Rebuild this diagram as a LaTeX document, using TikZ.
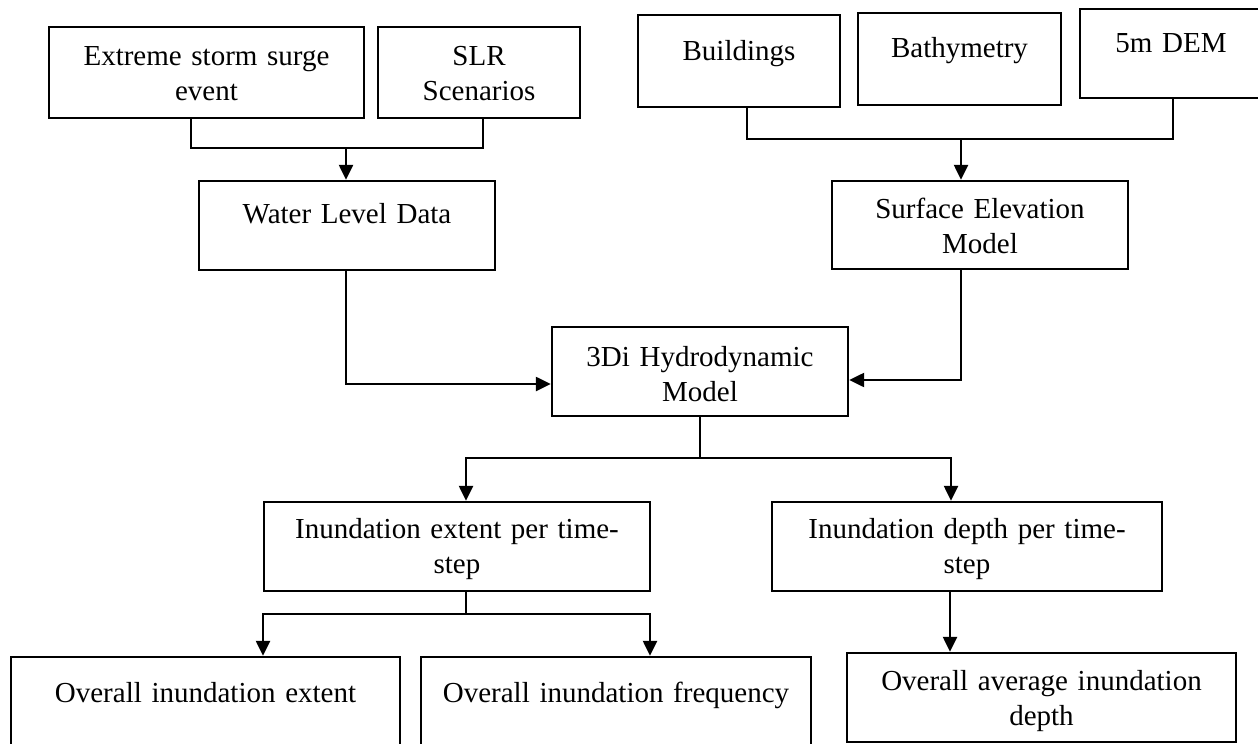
\documentclass[tikz,border=0pt]{standalone}
\usepackage{fontspec}
\setmainfont{Liberation Serif}
\usetikzlibrary{arrows.meta}
\tikzset{
  box/.style={draw, line width=2.4pt, inner sep=0pt, align=center,
    font=\fontsize{29}{35}\selectfont, anchor=base},
  conn/.style={line width=2.4pt},
  arr/.style={line width=2.4pt, -{Triangle[length=15pt,width=14pt]}},
}
\begin{document}
\begin{tikzpicture}[x=1pt,y=-1pt]
\useasboundingbox (0,0) rectangle (1258,744);
% top row
\node[box, text width=315pt, text height=38pt, text depth=53pt] (b1) at (206.5,65) {Extreme storm surge\\event};
\node[box, text width=202pt, text height=38pt, text depth=53pt] (b2) at (479,65) {SLR\\Scenarios};
\node[box, text width=202pt, text height=45pt, text depth=47pt] (b3) at (739,60) {Buildings};
\node[box, text width=203pt, text height=44pt, text depth=48pt] (b4) at (959.5,57) {Bathymetry};
\node[box, text width=182pt, text height=43pt, text depth=46pt] (b5) at (1171,52) {5m DEM};
% second row
\node[box, text width=296pt, text height=42pt, text depth=47pt] (wld) at (347,223) {Water Level Data};
\node[box, text width=296pt, text height=37pt, text depth=51pt] (sem) at (980,218) {Surface Elevation\\Model};
% model
\node[box, text width=296pt, text height=39pt, text depth=50pt] (hyd) at (700,366) {3Di Hydrodynamic\\Model};
% per time-step
\node[box, text width=386pt, text height=36pt, text depth=53pt] (ie) at (457,538) {Inundation extent per time-\\step};
\node[box, text width=390pt, text height=36pt, text depth=53pt] (idt) at (967,538) {Inundation depth per time-\\step};
% outputs
\node[box, text width=389pt, text height=45pt, text depth=48pt] (oie) at (205.5,702) {Overall inundation extent};
\node[box, text width=390pt, text height=45pt, text depth=48pt] (oif) at (616,702) {Overall inundation frequency};
\node[box, text width=389pt, text height=37pt, text depth=52pt] (odt) at (1041.5,690) {Overall average inundation\\depth};
% junctions
\coordinate (j1) at (346,148);
\coordinate (j2) at (961,139);
\coordinate (j3) at (700,458);
\coordinate (j4) at (466,614);
\coordinate (k) at ([xshift=-17pt]idt.south);
% connectors
\draw[conn] ([xshift=-15.5pt]b1.south) |- (j1) -| ([xshift=4pt]b2.south);
\draw[arr] (j1) -- (j1 |- wld.north);
\draw[conn] ([xshift=8pt]b3.south) |- (j2) -| ([xshift=2pt]b5.south);
\draw[arr] (j2) -- (j2 |- sem.north);
\draw[arr] (wld.south -| j1) |- ([yshift=-12.5pt]hyd.west);
\draw[arr] (sem.south -| j2) |- ([yshift=-8.5pt]hyd.east);
\draw[conn] (hyd.south) -- (j3);
\draw[arr] (j3) -| ([xshift=9pt]ie.north);
\draw[arr] (j3) -| ([xshift=-16pt]idt.north);
\draw[conn] ([xshift=9pt]ie.south) -- (j4);
\draw[arr] (j4) -| ([xshift=57.5pt]oie.north);
\draw[arr] (j4) -| ([xshift=34pt]oif.north);
\draw[arr] (k) -- (k |- odt.north);
\end{tikzpicture}
\end{document}
